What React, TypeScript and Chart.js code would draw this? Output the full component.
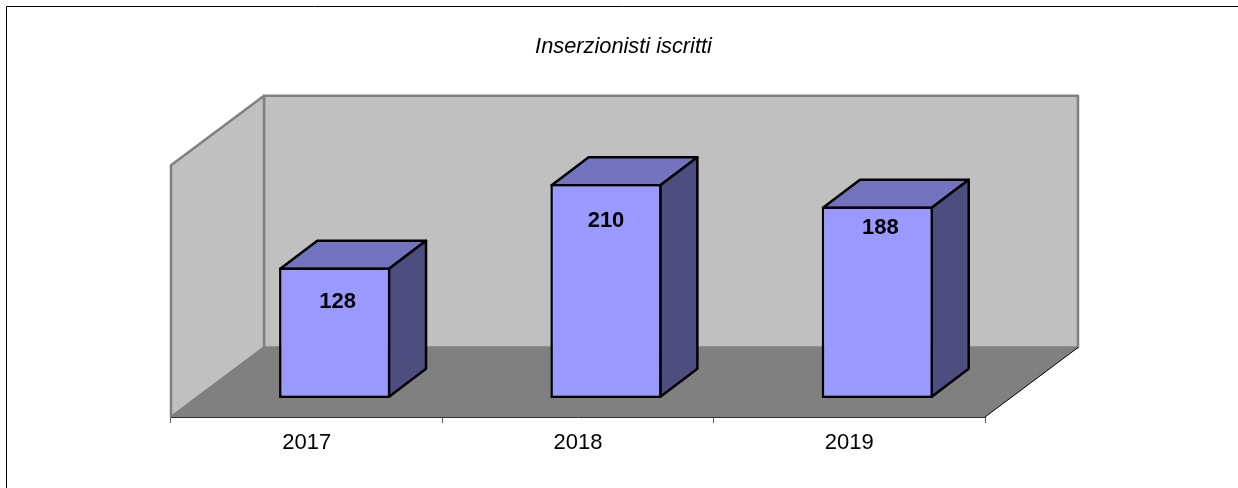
import React, { useEffect, useRef } from "react";
import { Chart, registerables } from "chart.js";

Chart.register(...registerables);

const categories = ["2017", "2018", "2019"];
const subscribers = [128, 210, 188];
const labelShiftX = [3, 0, 3];
const labelShiftY = [34.5, 36.5, 21.5];
const chartTitle = "Inserzionisti iscritti";

const FONT = "'Liberation Sans', Arial, sans-serif";
const FRONT = "#9999FF";
const TOP = "#7373BF";
const SIDE = "#4D4D80";
const WALL = "#C0C0C0";
const WALL_EDGE = "#808080";
const FLOOR = "#808080";
const ROOM_DX = 93;
const ROOM_DY = 69.5;
const BAR_SHIFT_X = 28;
const BAR_SHIFT_Y = -19;
const BAR_DX = 37;
const BAR_DY = 28;
const BAR_LINE = 2.5;

function poly(ctx: CanvasRenderingContext2D, pts: number[][], fill: string, stroke: string | null, lw: number) {
  ctx.beginPath();
  pts.forEach((p, i) => (i ? ctx.lineTo(p[0], p[1]) : ctx.moveTo(p[0], p[1])));
  ctx.closePath();
  ctx.fillStyle = fill;
  ctx.fill();
  if (stroke) {
    ctx.strokeStyle = stroke;
    ctx.lineWidth = lw;
    ctx.lineJoin = "round";
    ctx.stroke();
  }
}

const roomPlugin = {
  id: "room3d",
  beforeDraw(chart: any) {
    const { ctx, chartArea: a, width } = chart;
    ctx.save();
    // frame of the picture
    ctx.strokeStyle = "#000";
    ctx.lineWidth = 1;
    ctx.beginPath();
    ctx.moveTo(6.5, chart.height);
    ctx.lineTo(6.5, 6.5);
    ctx.lineTo(width, 6.5);
    ctx.stroke();
    const l = a.left, r = a.right, t = a.top, b = a.bottom;
    // floor
    poly(ctx, [[l, b], [l + ROOM_DX, b - ROOM_DY], [r + ROOM_DX, b - ROOM_DY], [r, b]], FLOOR, null, 0);
    // back wall
    poly(ctx, [[l + ROOM_DX, t - ROOM_DY], [r + ROOM_DX, t - ROOM_DY], [r + ROOM_DX, b - ROOM_DY], [l + ROOM_DX, b - ROOM_DY]], WALL, WALL_EDGE, 2.5);
    // left wall
    poly(ctx, [[l, t], [l + ROOM_DX, t - ROOM_DY], [l + ROOM_DX, b - ROOM_DY], [l, b]], WALL, WALL_EDGE, 2.5);
    // floor drawn edges
    ctx.strokeStyle = "#000";
    ctx.lineWidth = 1;
    ctx.beginPath();
    ctx.moveTo(r, b);
    ctx.lineTo(r + ROOM_DX, b - ROOM_DY);
    ctx.stroke();
    ctx.restore();
  },
  beforeDatasetsDraw(chart: any) {
    const { ctx } = chart;
    ctx.save();
    ctx.translate(BAR_SHIFT_X, BAR_SHIFT_Y);
    const inset = BAR_LINE / 2;
    chart.getDatasetMeta(0).data.forEach((bar: any) => {
      const L = bar.x - bar.width / 2 + inset;
      const R = bar.x + bar.width / 2 - inset;
      const T = bar.y + inset;
      const B = bar.base - inset;
      poly(ctx, [[L, T], [L + BAR_DX, T - BAR_DY], [R + BAR_DX, T - BAR_DY], [R, T]], TOP, "#000", BAR_LINE);
      poly(ctx, [[R, T], [R + BAR_DX, T - BAR_DY], [R + BAR_DX, B - BAR_DY], [R, B]], SIDE, "#000", BAR_LINE);
    });
  },
  afterDatasetsDraw(chart: any) {
    const { ctx } = chart;
    ctx.fillStyle = "#000";
    ctx.font = `bold 22px ${FONT}`;
    ctx.textAlign = "center";
    ctx.textBaseline = "middle";
    chart.getDatasetMeta(0).data.forEach((bar: any, i: number) => {
      ctx.fillText(String(subscribers[i]), bar.x + labelShiftX[i], bar.y + labelShiftY[i]);
    });
    ctx.restore();
  },
};

export default function App() {
  const ref = useRef<HTMLCanvasElement>(null);
  useEffect(() => {
    const chart = new Chart(ref.current!, {
      type: "bar",
      data: {
        labels: categories,
        datasets: [
          {
            data: subscribers,
            backgroundColor: FRONT,
            borderColor: "#000",
            borderWidth: BAR_LINE,
            borderSkipped: false,
            barPercentage: 0.41,
            categoryPercentage: 1,
          },
        ],
      },
      options: {
        animation: false,
        responsive: false,
        layout: { padding: { left: 9, right: 0, top: 0, bottom: 0 } },
        plugins: {
          legend: { display: false },
          tooltip: { enabled: false },
          title: {
            display: true,
            text: chartTitle,
            color: "#000",
            font: { family: FONT, size: 21.8, style: "italic", weight: "normal", lineHeight: 1.2 },
            padding: { top: 33.8, bottom: 105.4 },
          },
        },
        scales: {
          x: {
            offset: true,
            grid: { drawOnChartArea: false, drawTicks: true, tickLength: 6, tickColor: "#606060", offset: true },
            border: { display: true, color: "#303030", width: 1 },
            ticks: { color: "#000", font: { family: FONT, size: 22 }, padding: 7, maxRotation: 0 },
            afterFit(s: any) { s.height = 71; },
          },
          y: {
            min: 0,
            max: 247,
            grid: { display: false },
            border: { display: false },
            ticks: { display: false },
            afterFit(s: any) { s.width = 162; },
          },
          yRight: {
            position: "right",
            min: 0,
            max: 247,
            grid: { display: false },
            border: { display: false },
            ticks: { display: false },
            afterFit(s: any) { s.width = 253; },
          },
        },
      } as any,
      plugins: [roomPlugin],
    });
    return () => chart.destroy();
  }, []);
  return (
    <div style={{ position: "absolute", left: 0, top: 0, width: 1238, height: 488, background: "#fff" }}>
      <canvas ref={ref} width={1238} height={488} style={{ display: "block" }} />
    </div>
  );
}
